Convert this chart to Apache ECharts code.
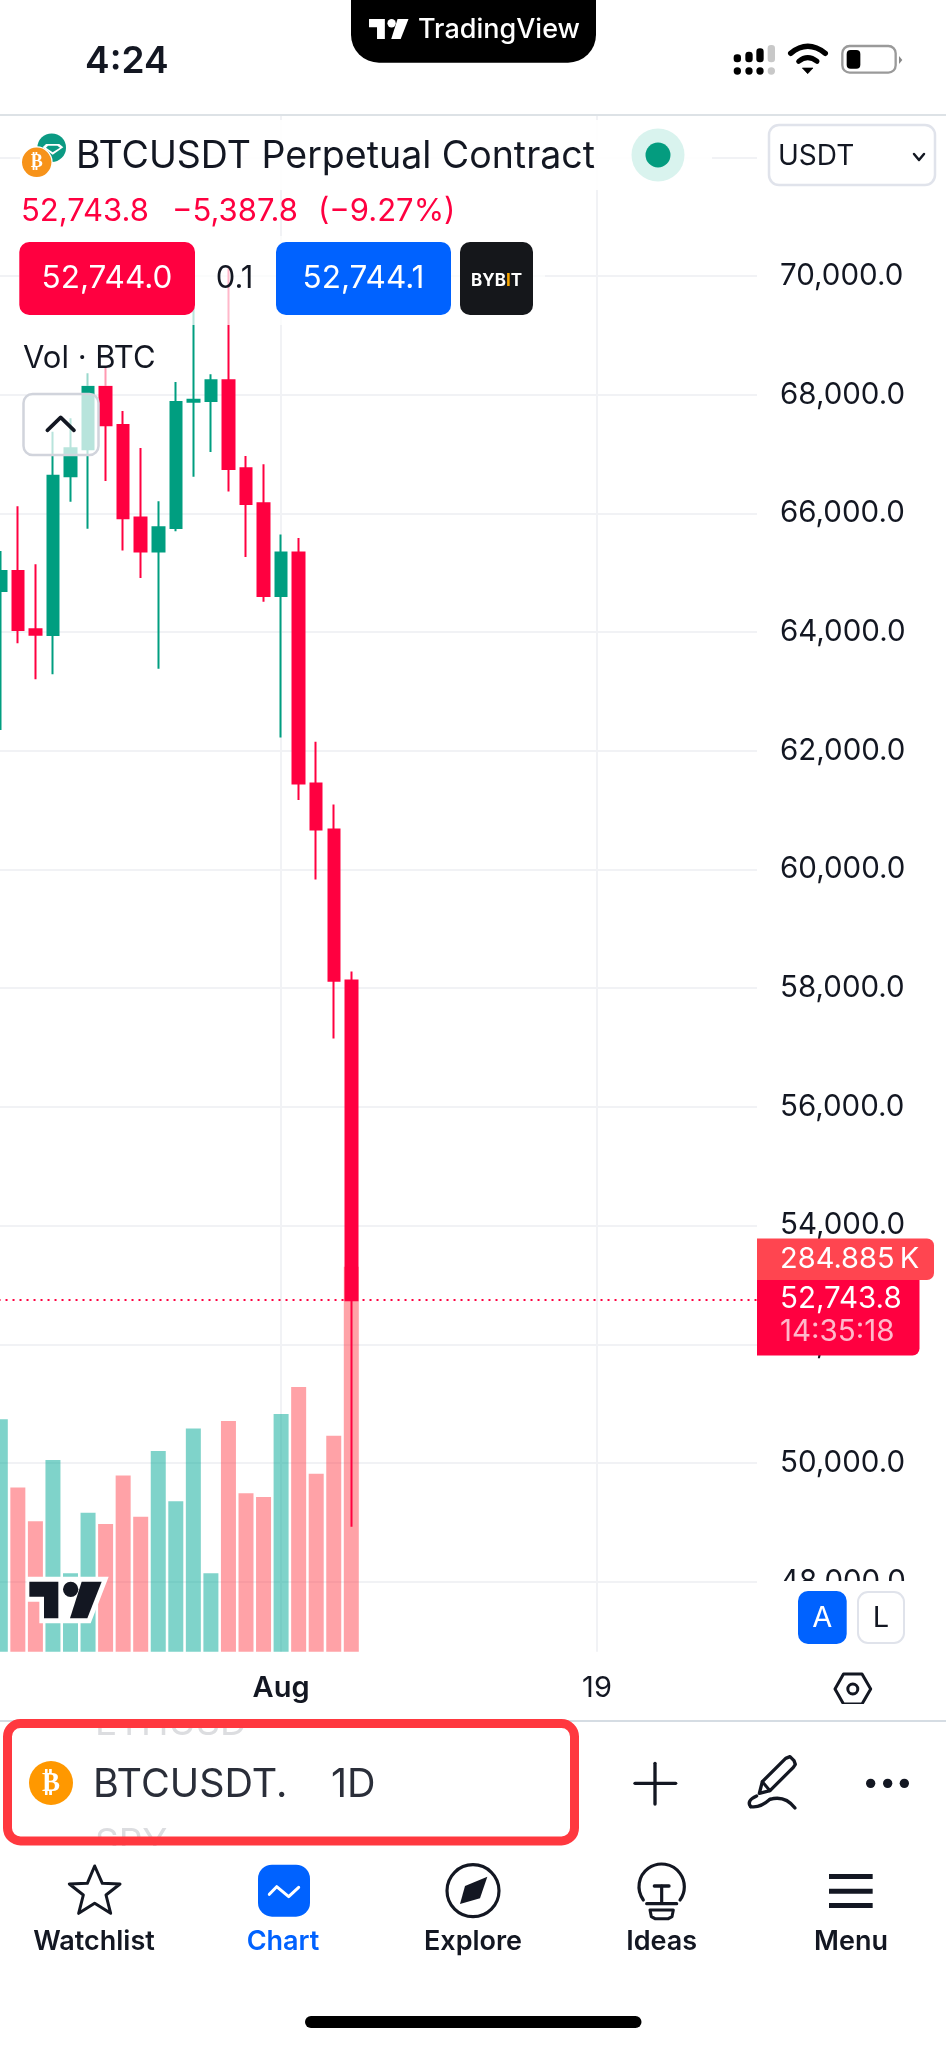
<!DOCTYPE html>
<html><head><meta charset="utf-8">
<style>html,body{margin:0;padding:0;background:#fff}#c{width:946px;height:2048px}</style>
<script src="https://cdn.jsdelivr.net/npm/echarts@6/dist/echarts.min.js"></script>
</head><body><div id="c"></div>
<script>
const categories = ['Jul 16','Jul 17','Jul 18','Jul 19','Jul 20','Jul 21','Jul 22','Jul 23','Jul 24','Jul 25','Jul 26','Jul 27','Jul 28','Jul 29','Jul 30','Jul 31','Aug 1','Aug 2','Aug 3','Aug 4','Aug 5','Aug 6','Aug 7','Aug 8','Aug 9','Aug 10','Aug 11','Aug 12','Aug 13','Aug 14','Aug 15','Aug 16','Aug 17','Aug 18','Aug 19','Aug 20','Aug 21','Aug 22','Aug 23','Aug 24','Aug 25','Aug 26','Aug 27','Aug 28'];
const opens  = [64693,65030,64047,63952,66625,67080,68136,67490,65929,65356,65754,67883,67894,68242,66760,66170,64608,65341,61447,60672,58131.6];
const closes = [65030,64036,63957,66636,67097,68136,67484,65917,65356,65766,67877,67917,68242,66749,66159,64609,65341,61447,60672,58127,52743.8];
const lows   = [62351,63811,63205,63289,66198,65743,66546,65373,64912,63384,65698,66619,67035,66367,65266,64513,62224,61171,59830,57151,48927];
const highs  = [65367,66119,65142,67377,67602,68360,68456,67726,67102,66204,68214,69483,68343,70140,66968,66827,65643,65586,62152,61094,58283];
const volumesK = [172,121.6,96.5,141.9,58,102.9,94.5,130.5,99.9,148.5,111.3,165.3,58,170.7,117.2,114.5,175.9,195.9,131.8,159.9,284.885];
const timeTicks = {'Aug 1':'{b|Aug}','Aug 19':'19'};
const lastPrice = 52743.8;

const RED='#ff0040', GREEN='#009e80', BLUE='#0062ff', INK='#131722';
const FONT='Inter, "Noto Sans", sans-serif';
const G=[]; let zc=100;
function T(text,x,y,size,o={}){G.push({type:'text',silent:true,z:o.z||zc++,style:{text,x,y,fill:o.fill||INK,font:(o.weight||400)+' '+size+'px '+(o.family||FONT),textAlign:o.align||'left',textVerticalAlign:'middle',rich:o.rich}});}
function R(x,y,w,h,r,fill,stroke,lw,z){G.push({type:'rect',silent:true,z:z||zc++,shape:{x,y,width:w,height:h,r},style:{fill:fill||'none',stroke:stroke||'none',lineWidth:lw||0}});}
function C(x,y,r,fill,stroke,lw){G.push({type:'circle',silent:true,z:zc++,shape:{cx:x,cy:y,r},style:{fill:fill||'none',stroke:stroke||'none',lineWidth:lw||0}});}
function Icon(x,y,s,children){const z=zc++;children.forEach(c=>{c.z=z;c.silent=true;});G.push({type:'group',x,y,scaleX:s,scaleY:s,silent:true,children});}
function curve(x1,y1,cx,cy,x2,y2,stroke,lw){return {type:'bezierCurve',shape:{x1,y1,cpx1:cx,cpy1:cy,x2,y2},style:{fill:'none',stroke,lineWidth:lw,lineCap:'round'}};}
function arc(cx,cy,r,a0,a1,stroke,lw){return {type:'arc',shape:{cx,cy,r,startAngle:a0,endAngle:a1,clockwise:true},style:{fill:'none',stroke,lineWidth:lw,lineCap:'round'}};}
function poly(pts,fill,stroke,lw){return {type:'polygon',shape:{points:pts},style:{fill:fill||'none',stroke:stroke||'none',lineWidth:lw||0,lineJoin:'round'}};}
function pl(pts,stroke,lw){return {type:'polyline',shape:{points:pts},style:{fill:'none',stroke,lineWidth:lw,lineCap:'round',lineJoin:'round'}};}
function circ(cx,cy,r,fill,stroke,lw){return {type:'circle',shape:{cx,cy,r},style:{fill:fill||'none',stroke:stroke||'none',lineWidth:lw||0}};}
function rc(x,y,w,h,r,fill,stroke,lw){return {type:'rect',shape:{x,y,width:w,height:h,r},style:{fill:fill||'none',stroke:stroke||'none',lineWidth:lw||0}};}
function tvLogo(fill){return [poly([[88,665],[175,665],[175,775],[132,775],[132,710],[88,710]],fill),circ(212,688,23,fill),poly([[245,665],[305,665],[262,775],[210,775]],fill)];}

// veils of the floating legend over the chart
R(20,120,692,70,0,'rgba(255,255,255,0.9)');
R(19,236,526,89,0,'rgba(255,255,255,0.72)');
R(15,335,140,51,0,'rgba(255,255,255,0.6)');
// watermark
Icon(0,1360,1/3,[poly([[80,650],[326,650],[272,790],[118,790],[118,725],[80,725]],'#fff')].concat(tvLogo('#131722')));

// price scale overlays
R(757,1581,189,72,0,'#fff');
R(757,1238.5,177,41.5,[0,7,7,0],'#ff4550');
T('284.885\u2009K',780,1259.5,29,{fill:'#fff'});
R(757,1280,162.5,75.5,[0,0,7,0],RED);
T('52,743.8',780,1299,29.5,{fill:'#fff'});
T('14:35:18',780,1332.5,29.5,{fill:'rgba(255,255,255,0.72)'});
R(798,1591,48.7,53,10,BLUE);
T('A',822.3,1618,29,{fill:'#fff',align:'center'});
R(858,1592,46,51,10,'#fff','#e0e3eb',2);
T('L',881,1618,29,{align:'center'});
Icon(0,0,1,[poly([[835,1689],[843.5,1674],[862,1674],[870.7,1689],[862,1704],[843.5,1704]],null,INK,3),circ(852.8,1689,5,null,INK,3)]);

// status bar
R(351,-30,245,92.7,28,'#000');
Icon(353,-102,0.182,tvLogo('#fff'));
T('TradingView',418,29.5,27,{fill:'#fff',weight:500});
T('4:24',85,62,37,{weight:600});
Icon(720,30,1/3,[
 circ(52,123,11,'#000'),circ(87,123,11,'#000'),circ(120,123,11,'#000'),circ(154,123,11,'#c8c8c8'),
 rc(41,73,22,24,10,'#000'),rc(76,65,22,32,10,'#000'),rc(109,55,22,42,10,'#000'),rc(143,45,22,52,10,'#c8c8c8'),
 curve(212,70,263,28,316,70,'#000',16),curve(236,94,263,72,291,94,'#000',15),poly([[247,114],[279,114],[263,131]],'#000','#000',2),
 rc(367,48,160,80,22,null,'#9a9a9a',7),rc(380,60,41,56,12,'#000'),poly([[537,78],[547,90],[537,102]],'#888')
]);
R(-2,114,950,2,0,'#dde2e6');

// legend
C(51.7,147.7,14.3,'#0b9a83');
Icon(0,120,1/3,[poly([[138,72],[178,72],[190,82],[158,104],[128,82]],'#fff'),poly([[144,77],[172,77],[180,83],[158,97],[138,83]],'#0b9a83')]);
C(36.7,162.3,16,'#fff');
C(36.7,162.3,14.7,'#f7931a');
T('₿',36.7,162.5,18,{fill:'#fff',weight:700,align:'center',family:'"DejaVu Sans"'});
T('BTCUSDT Perpetual Contract',76,157,37.5);
T('52,743.8',21,212,31,{fill:RED});
T('−5,387.8',172,212,31,{fill:RED});
T('(−9.27%)',318,212,31,{fill:RED});
C(658,155,26.5,'#d9f3ee');
C(658,155,12.5,'#049c7f');
R(769,125,166,60,10,'#fff','#e0e3eb',2.5);
T('USDT',778,157,28);
Icon(919,157,1,[pl([[-5,-3],[0,3],[5,-3]],INK,2.5)]);
R(19.3,242,175.7,73,10,RED);
T('52,744.0',107,279,31.5,{fill:'#fff',align:'center'});
T('0.1',234.5,279,31,{align:'center'});
R(276,242,175,73,10,BLUE);
T('52,744.1',363.5,279,31.5,{fill:'#fff',align:'center'});
R(460,242,73,73,10,'#15171b');
T('{a|BYB}{b|I}{a|T}',496.5,281,17,{align:'center',fill:'#fff',rich:{a:{fill:'#fff',fontSize:17,fontWeight:700,fontFamily:FONT},b:{fill:'#f7a600',fontSize:17,fontWeight:700,fontFamily:FONT}}});
T('Vol · BTC',23,358.5,31);
R(23.5,394,75,61,9,'rgba(255,255,255,0.72)','#d1d4dc',2.5);
Icon(0,240,1/3,[pl([[142,571],[182,532],[222,571]],INK,11)]);

// bottom pane
T('ETHUSD',95,1724,37,{fill:'#dcdde0'});
T('SPY',95,1844,37,{fill:'#dcdde0'});
R(0,1704,946,15,0,'#fff');
R(0,1846,946,202,0,'#fff');
R(-2,1720,950,2,0,'#d5dce3');
R(7.5,1723.5,567,117.5,13,'none','#ff383f',9);
C(51,1783,22,'#ff9800');
T('₿',51,1783.5,27,{fill:'#fff',weight:700,align:'center',family:'"DejaVu Sans"'});
T('BTCUSDT.',93,1785.5,39.5,{fill:'#2a2e39'});
T('1D',331,1785.5,39.5,{fill:'#2a2e39'});
Icon(620,1710,1/3,[
 pl([[45,220],[167,220]],INK,10),pl([[105,160],[105,282]],INK,10),
 poly([[418,250],[427,215],[497,145],[510,140],[522,152],[526,163],[520,172],[450,242]],null,INK,10),
 pl([[427,215],[450,242]],INK,9),
 curve(410,258,378,272,392,290,INK,10),curve(392,290,420,295,450,268,INK,10),curve(450,268,495,255,525,294,INK,10),
 circ(752,220,14,INK),circ(803,220,14,INK),circ(853,220,14,INK)
]);

// tab bar
Icon(20,1860,1/3,[
 poly([[224,18],[247,70],[300,72],[258,105],[272,160],[224,130],[176,160],[190,105],[148,72],[202,70]],null,'#131722',9),
 rc(714,14,156,156,42,BLUE),
 pl([[748,103],[770,80],[806,110],[836,82]],'#fff',9)
]);
Icon(470,1860,1/3,[
 circ(9,92,78,null,INK,9.5),
 poly([[52,50],[-15,78],[-30,132],[30,115]],INK),
 arc(575,80,68,Math.PI*0.8,Math.PI*0.2,INK,9.5),
 pl([[530,131],[620,131]],INK,9.5),
 pl([[553,78],[597,78]],INK,10),pl([[575,78],[575,130]],INK,9.5),
 poly([[540,150],[610,150],[606,170],[595,176],[555,176],[544,170]],null,INK,9),
 rc(1077,42,131,15,0,INK),rc(1077,86,131,15,0,INK),rc(1077,129,131,15,0,INK)
]);
[['Watchlist',94,INK],['Chart',283,BLUE],['Explore',473,INK],['Ideas',661.7,INK],['Menu',851,INK]].forEach(a=>T(a[0],a[1],1942,27,{weight:600,fill:a[2],align:'center'}));
R(305,2016,336.5,12,6,'#000');

const candleData = opens.map((o,i)=>[o,closes[i],lows[i],highs[i]]);
const volData = volumesK.map((v,i)=>({value:v,itemStyle:{color:closes[i]>=opens[i]?'rgba(0,168,150,0.5)':'rgba(255,65,75,0.49)'}}));
const GRID_CANDLE={left:-8.475,width:772.2,top:38.6,height:1661.8,outerBoundsMode:'none'};
const GRID_PRICE={left:0,width:757,top:38.6,height:1661.8,outerBoundsMode:'none'};
const GRID_VOL={left:-8.475,width:772.2,top:115,height:1536.7,outerBoundsMode:'none'};
const isTime=(i,v)=>timeTicks[v]!==undefined;

const chart=echarts.init(document.getElementById('c'),null,{renderer:'canvas'});
chart.setOption({
 animation:false,backgroundColor:'#fff',
 textStyle:{fontFamily:FONT},
 grid:[GRID_CANDLE,GRID_PRICE,GRID_VOL],
 xAxis:[
  {gridIndex:0,type:'category',data:categories,show:false},
  {gridIndex:1,type:'category',data:['-'],show:false},
  {gridIndex:2,type:'category',data:categories,axisLine:{show:false},axisTick:{show:false},
   splitLine:{show:true,alignWithLabel:true,interval:isTime,lineStyle:{color:'#f1f2f5',width:2}},
   axisLabel:{interval:isTime,margin:22,hideOverlap:false,fontSize:29,color:INK,fontFamily:FONT,
     formatter:v=>timeTicks[v]||'',rich:{b:{fontSize:29,fontWeight:600,color:INK,fontFamily:FONT}}}}
 ],
 yAxis:[
  {gridIndex:0,type:'value',min:46000,max:74000,show:false,splitLine:{show:false}},
  {gridIndex:1,type:'value',position:'right',min:46000,max:74000,interval:2000,axisLine:{show:false},axisTick:{show:false},
   splitLine:{show:true,showMinLine:false,showMaxLine:false,lineStyle:{color:'#f1f2f5',width:2}},
   axisLabel:{margin:23,fontSize:29.5,color:INK,fontFamily:FONT,showMinLabel:false,showMaxLabel:false,
     formatter:v=>v>=72000||v<=46000?'':v.toLocaleString('en-US',{minimumFractionDigits:1})}},
  {gridIndex:2,type:'value',min:0,max:1137.5,show:false,splitLine:{show:false}}
 ],
 series:[
  {type:'bar',name:'Vol',xAxisIndex:2,yAxisIndex:2,data:volData,barWidth:15,z:2,silent:true},
  {type:'candlestick',name:'BTCUSDT',xAxisIndex:0,yAxisIndex:0,data:candleData,barWidth:12,z:3,silent:true,
   itemStyle:{color:GREEN,color0:RED,borderColor:GREEN,borderColor0:RED,borderWidth:2},
   markLine:{silent:true,symbol:['none','none'],label:{show:false},animation:false,
     lineStyle:{color:RED,width:2,type:[2,5],opacity:1},data:[{yAxis:lastPrice}]}}
 ],
 graphic:{elements:G}
});
</script></body></html>
